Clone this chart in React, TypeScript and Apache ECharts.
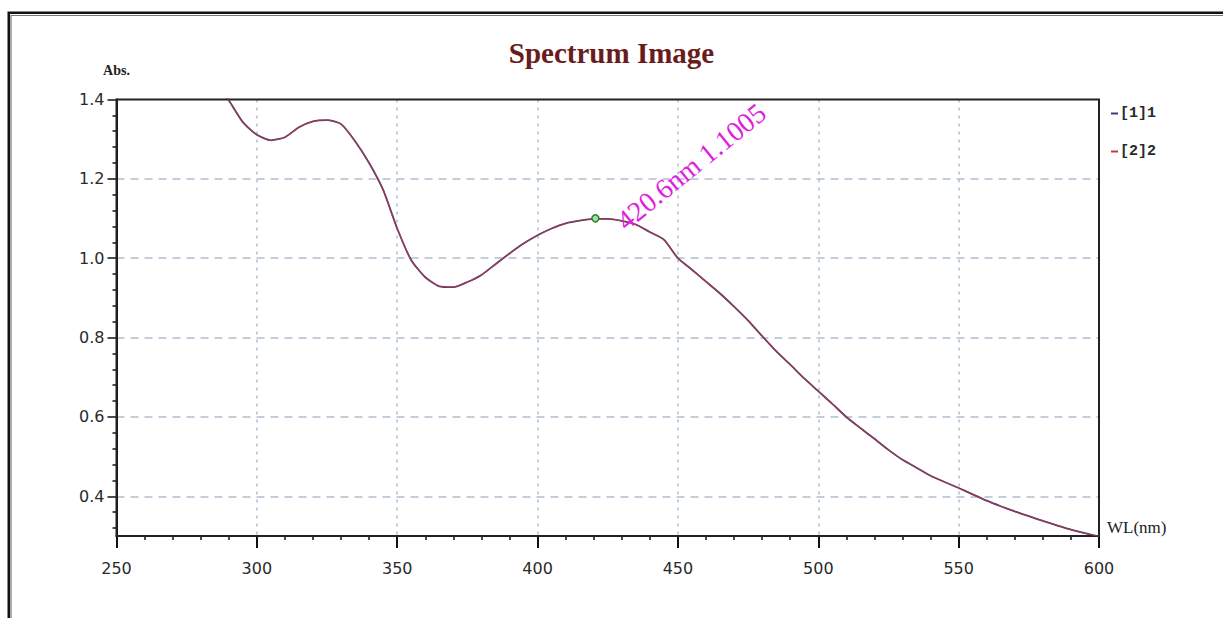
import React, { useEffect, useRef } from "react";
import * as echarts from "echarts";

// Wavelength (nm) and absorbance readings
const wavelengths = [
  286, 290, 295, 300, 305, 310, 315, 320, 325, 330, 335, 340, 345, 350, 355, 360,
  365, 370, 375, 380, 385, 390, 395, 400, 405, 410, 415, 420, 425, 430, 435, 440,
  445, 450, 455, 460, 465, 470, 475, 480, 485, 490, 495, 500, 505, 510, 515, 520,
  525, 530, 535, 540, 545, 550, 555, 560, 565, 570, 575, 580, 585, 590, 595, 600,
];
const absorbance1 = [
  1.435, 1.398, 1.343, 1.311, 1.297, 1.305, 1.330, 1.345, 1.348, 1.338, 1.295, 1.240,
  1.172, 1.075, 0.995, 0.952, 0.929, 0.927, 0.940, 0.958, 0.985, 1.012, 1.037, 1.058,
  1.075, 1.088, 1.095, 1.099, 1.099, 1.094, 1.085, 1.066, 1.047, 1.000, 0.971, 0.941,
  0.911, 0.878, 0.843, 0.804, 0.766, 0.732, 0.697, 0.665, 0.633, 0.600, 0.572, 0.545,
  0.517, 0.492, 0.472, 0.452, 0.436, 0.421, 0.405, 0.389, 0.375, 0.362, 0.350, 0.338,
  0.327, 0.316, 0.307, 0.299,
];
const absorbance2 = [
  1.435, 1.398, 1.343, 1.311, 1.297, 1.305, 1.330, 1.345, 1.348, 1.338, 1.295, 1.240,
  1.172, 1.075, 0.995, 0.952, 0.929, 0.927, 0.940, 0.958, 0.985, 1.012, 1.037, 1.058,
  1.075, 1.088, 1.095, 1.099, 1.099, 1.094, 1.085, 1.066, 1.047, 1.000, 0.971, 0.941,
  0.911, 0.878, 0.843, 0.804, 0.766, 0.732, 0.697, 0.665, 0.633, 0.600, 0.572, 0.545,
  0.517, 0.492, 0.472, 0.452, 0.436, 0.421, 0.405, 0.389, 0.375, 0.362, 0.350, 0.338,
  0.327, 0.316, 0.307, 0.299,
];
const seriesNames = ["[1]1", "[2]2"];
const peakWL = 420.6;
const peakAbs = 1.1005;

const xMin = 250;
const xMax = 600;
const xInterval = 50;
const yMin = 0.3;
const yMax = 1.4;
const yTickValues = [0.4, 0.6, 0.8, 1.0, 1.2, 1.4];
const yGridValues = [0.4, 0.6, 0.8, 1.0, 1.2];
const yMinorTickValues = [
  0.32, 0.36, 0.44, 0.48, 0.52, 0.56, 0.64, 0.68, 0.72, 0.76, 0.84, 0.88, 0.92, 0.96,
  1.04, 1.08, 1.12, 1.16, 1.24, 1.28, 1.32, 1.36,
];

export default function App() {
  const ref = useRef<HTMLDivElement>(null);

  useEffect(() => {
    if (!ref.current) return;
    const chart = echarts.init(ref.current, null, { renderer: "svg" });
    const data1 = wavelengths.map((w, i) => [w, absorbance1[i]]);
    const data2 = wavelengths.map((w, i) => [w, absorbance2[i]]);
    const tickFont = { fontFamily: "DejaVu Sans", fontSize: 16, color: "#2a2a2a" };
    const gridColor = "#aebfd0";

    chart.setOption({
      animation: false,
      backgroundColor: "#ffffff",
      title: {
        text: "Spectrum Image",
        left: "center",
        top: 38,
        padding: 0,
        textStyle: {
          fontFamily: "Liberation Serif",
          fontWeight: "bold",
          fontSize: 29,
          color: "#6a1c1c",
        },
      },
      legend: {
        orient: "vertical",
        left: 1106,
        top: 101,
        icon: "rect",
        itemWidth: 7,
        itemHeight: 2,
        itemGap: 23,
        data: seriesNames,
        textStyle: {
          fontFamily: "Liberation Mono",
          fontSize: 15,
          fontWeight: "bold",
          color: "#2a2a2a",
          padding: [0, 0, 0, -3],
        },
      },
      grid: {
        left: 116.5,
        right: 124,
        top: 99.5,
        bottom: 82,
        show: true,
        borderColor: "#222222",
        borderWidth: 2,
        z: 3,
      },
      xAxis: {
        type: "value",
        min: xMin,
        max: xMax,
        interval: xInterval,
        name: "WL(nm)",
        nameLocation: "end",
        nameGap: 8,
        nameTextStyle: {
          fontFamily: "Liberation Serif",
          fontSize: 17,
          color: "#222222",
          verticalAlign: "bottom",
          lineHeight: 18,
          align: "left",
        },
        axisLine: { show: true, lineStyle: { color: "#111111", width: 2 } },
        axisTick: { show: true, length: 12, lineStyle: { color: "#111111", width: 2 } },
        minorTick: { show: true, splitNumber: 5, length: 4, lineStyle: { color: "#111111", width: 1.5 } },
        axisLabel: { ...tickFont, margin: 24 },
        splitLine: {
          show: true,
          showMinLine: false,
          showMaxLine: false,
          lineStyle: { color: gridColor, width: 1.5, type: [3, 5] },
        },
        minorSplitLine: { show: false },
      },
      yAxis: [
        {
          type: "value",
          min: yMin,
          max: yMax,
          name: "Abs.",
          nameLocation: "end",
          nameGap: 22,
          nameTextStyle: {
            fontFamily: "Liberation Serif",
            fontWeight: "bold",
            fontSize: 14,
            color: "#222222",
            align: "center",
          },
          axisLine: { show: true, lineStyle: { color: "#111111", width: 2 } },
          axisTick: {
            show: true,
            length: 9,
            customValues: yTickValues,
            lineStyle: { color: "#111111", width: 1.5 },
          },
          axisLabel: {
            ...tickFont,
            margin: 12,
            customValues: yTickValues,
            formatter: (v: number) => v.toFixed(1),
          },
          splitLine: { show: false },
        },
        {
          type: "value",
          min: yMin,
          max: yMax,
          position: "left",
          axisLine: { show: false },
          axisTick: {
            show: true,
            length: 4,
            customValues: yMinorTickValues,
            lineStyle: { color: "#111111", width: 1.5 },
          },
          axisLabel: { show: false },
          splitLine: { show: false },
        },
        {
          type: "value",
          min: yMin,
          max: yMax,
          position: "left",
          axisLine: { show: false },
          axisTick: { show: false, customValues: yGridValues },
          axisLabel: { show: false },
          splitLine: {
            show: true,
            lineStyle: { color: gridColor, width: 1.5, type: [8, 6] },
          },
        },
      ],
      series: [
        {
          name: seriesNames[0],
          type: "line",
          data: data1,
          yAxisIndex: 0,
          smooth: 0.2,
          showSymbol: false,
          clip: true,
          color: "#3e3a7c",
          lineStyle: { color: "#3e3a7c", width: 1.8 },
          z: 2,
          markPoint: {
            symbol: "circle",
            symbolSize: 7,
            itemStyle: { color: "#9ee09e", borderColor: "#2e7d2e", borderWidth: 1.5 },
            data: [{ coord: [peakWL, peakAbs] }],
            label: {
              show: true,
              formatter: () => `${peakWL}nm ${peakAbs}`,
              position: [29, 10],
              align: "left",
              verticalAlign: "middle",
              rotate: 39,
              fontFamily: "Liberation Serif",
              fontSize: 28,
              color: "#e020e0",
            },
          },
        },
        {
          name: seriesNames[1],
          type: "line",
          data: data2,
          yAxisIndex: 0,
          smooth: 0.2,
          showSymbol: false,
          clip: true,
          color: "#c83a3a",
          lineStyle: { color: "#c83a3a", width: 1.2, opacity: 0.7 },
          z: 3,
        },
      ],
      graphic: [
        {
          type: "rect",
          shape: { x: 8.75, y: 12.75, width: 1400, height: 800 },
          style: { fill: "none", stroke: "#111111", lineWidth: 2.5 },
          silent: true,
        },
        {
          type: "rect",
          shape: { x: 11, y: 15.5, width: 1400, height: 800 },
          style: { fill: "none", stroke: "#777777", lineWidth: 1.2 },
          silent: true,
        },
      ],
    });

    return () => chart.dispose();
  }, []);

  return (
    <div
      ref={ref}
      style={{ position: "fixed", left: 0, top: 0, width: 1223, height: 618 }}
    />
  );
}
